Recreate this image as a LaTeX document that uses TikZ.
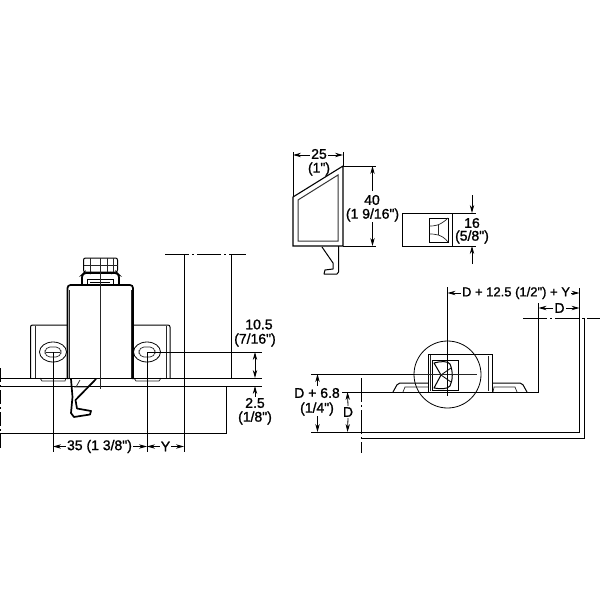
\documentclass[tikz,border=0pt]{standalone}
\usepackage{fontspec}
\usetikzlibrary{arrows.meta}
\newfontfamily\dimfont[FakeBold=1.2]{Liberation Sans}
\tikzset{
  dim/.style={line width=0.8bp},
  ln/.style={line width=1bp},
  thick line/.style={line width=1.7bp},
  thin line/.style={line width=0.7bp,black!85},
  cline/.style={line width=1bp,dash pattern=on 24bp off 3bp on 2bp off 3bp},
  arr/.style={line width=0.8bp,-{Stealth[length=8bp,width=4.4bp]}},
  lab/.style={font=\dimfont\fontsize{14bp}{15bp}\selectfont,inner sep=1bp,text=black},
}
\begin{document}
\begin{tikzpicture}[x=1bp,y=-1bp]
\useasboundingbox (0,0) rectangle (600,600);
\fill[white] (0,0) rectangle (600,600);

%% ---------- left view ----------
% knob
\draw[ln,rounded corners=2bp] (83.5,258) rectangle (117.5,272);
\draw[thin line] (83.5,265) -- (117.5,265) (90,258) -- (90,272) (107,258) -- (107,272) (113,258) -- (113,272);
\draw[ln] (92,272) -- (90,274) (110,272) -- (112,274);
% collar
\draw[thick line,rounded corners=2bp] (82,285) -- (82,275) -- (84,273) -- (117,273) -- (119,275) -- (119,285);
\draw[ln] (87,285) -- (87,279) -- (113,279) -- (113,285);
\draw[ln] (90,282) -- (110,282);
% body
\draw[thick line,rounded corners=3bp] (67.5,379) -- (67.5,285) -- (133,285) -- (133,379);
\draw[thin line] (69.5,290) -- (69.5,378) (131,290) -- (131,378);
% flanges
\draw[ln,rounded corners=2bp] (67,325) -- (30.5,325) -- (30.5,378);
\draw[thin line] (35,326) -- (35,378);
\draw[ln,rounded corners=2bp] (133,325) -- (170,325) -- (170,378);
\draw[thin line] (166,326) -- (166,378);
\draw[thin line] (40,378) -- (42,381) -- (65,381) -- (66,378);
\draw[thin line] (134,378) -- (136,381) -- (159,381) -- (161,378);
% slots
\draw[dim] (53,352) ellipse [x radius=13.5,y radius=10];
\draw[thin line,rounded corners=5bp] (45,347) rectangle (61,357);
\draw[thin line] (46,352) -- (60,352);
\draw[dim] (147,352) ellipse [x radius=13.5,y radius=10];
\draw[thin line,rounded corners=5bp] (139,347) rectangle (155,357);
% plate
\draw[dim] (0,378) -- (262,378);
\draw[dim] (0,386) -- (262,386);
\draw[dim] (0,433) -- (226,433) -- (226,386);
\draw[line width=1.3bp,dash pattern=on 14bp off 3bp on 2bp off 3bp] (0.7,368) -- (0.7,449);
% catch
\draw[thick line,line join=round] (71,379) -- (72.5,397) -- (71,413) -- (74,417) -- (90,414.5) -- (91,411) -- (77,408.5) -- (75.5,400) -- (96,379);
\draw[thin line] (80,380) -- (76,387) (74,387) -- (87,387);
% centre lines / extensions
\draw[thin line] (100,258) -- (100,389);
\draw[dim] (53,352) -- (53,452);
\draw[dim] (147,352) -- (147,452);
\draw[dim] (184,254) -- (184,452);
\draw[dim] (231.5,254) -- (231.5,378);
\draw[dim] (147,352) -- (262,352);
\draw[cline] (165,254) -- (246,254);
% dimensions
\node[lab] (t35) at (99.5,446.5) {35 (1 3/8")};
\node[lab] (tY) at (165.5,446.5) {Y};
\coordinate (a1) at (53,446.5); \coordinate (a2) at (147,446.5); \coordinate (a3) at (184,446.5);
\draw[arr] (t35.west) -- (a1);
\draw[arr] (t35.east) -- (a2);
\draw[arr] (tY.west) -- (a2);
\draw[arr] (tY.east) -- (a3);
\node[lab] (t105) at (259,324.5) {10.5};
\node[lab] (t716) at (255,340) {(7/16")};
\node[lab] (t25) at (255,403) {2.5};
\node[lab] (t18) at (255,418) {(1/8")};
\coordinate (b1) at (255,352); \coordinate (b2) at (255,378); \coordinate (b3) at (255,386);
\draw[arr] (255,366) -- (b1);
\draw[arr] (255,364) -- (b2);
\draw[arr] (t25.north) -- (b3);

%% ---------- top profile ----------
\draw[line width=1.1bp,line join=miter] (293,197) -- (343,166) -- (343,246) -- (293,246) -- cycle;
\draw[line width=1bp,black!80] (298,200) -- (338,175) -- (338,241) -- (298,241) -- cycle;
\draw[ln,line join=round] (322,247) -- (333,263) -- (333,269) -- (325,270) -- (324,274) -- (337,274) -- (338.5,272) -- (338.5,246);
\draw[dim] (293,197) -- (293,152) (343,166) -- (343,152);
\node[lab] (t25b) at (319,154) {25};
\node[lab] (t1) at (319,169) {(1")};
\coordinate (c1) at (293,155); \coordinate (c2) at (343,155);
\draw[arr] (t25b.west |- c1) -- (c1);
\draw[arr] (t25b.east |- c2) -- (c2);
\draw[dim] (343,166) -- (376,166) (343,246) -- (376,246);
\node[lab] (t40) at (372,200) {40};
\node[lab] (t916) at (372.5,215) {(1 9/16")};
\coordinate (d1) at (372.5,166); \coordinate (d2) at (372.5,246);
\draw[arr] (372.5,191) -- (d1);
\draw[arr] (372.5,222) -- (d2);

%% ---------- small front view ----------
\draw[line width=0.9bp] (402,213) rectangle (452,246);
\draw[dim] (429.5,218) rectangle (448,242);
\draw[thin line] (429.5,226) .. controls (434,226) and (440,226) .. (448,218);
\draw[thin line] (429.5,234) .. controls (434,234) and (442,234) .. (448,242);
\draw[thin line] (438,225) -- (438,235);
\draw[dim] (452,213) -- (476,213) (452,246) -- (476,246);
\node[lab] (t16) at (472,223) {16};
\node[lab] (t58) at (472,237) {(5/8")};
\coordinate (e1) at (472,213); \coordinate (e2) at (472,246);
\draw[arr] (472,195) -- (e1);
\draw[arr] (472,264) -- (e2);

%% ---------- bottom right view ----------
\draw[dim] (447.5,374.5) circle [radius=33.5];
% housing
\draw[ln] (428,392) -- (428,354.5) -- (492,354.5) -- (492,392);
\draw[thin line] (488,356) -- (488,391);
\draw[thin line] (430,355) -- (430,391);
\draw[dim] (432.5,360) rectangle (458,390);
% mechanism
\draw[ln,line join=round] (434,363) .. controls (441,361) and (448,361) .. (450,364) .. controls (453,371) and (453,380) .. (450,386) .. controls (447,389.5) and (440,389) .. (434,388) -- (441,375) -- cycle;
\draw[dim] (441,375) -- (451,368) (441,375) -- (451,382);
% flanges
\draw[ln,rounded corners=2bp] (393,392) -- (398,383) -- (428,383);
\draw[thin line] (403,392) -- (405,387) -- (428,387);
\draw[ln,rounded corners=2bp] (492,383) -- (522,383) -- (527,392);
\draw[thin line] (493,392) -- (494,387) -- (515,387) -- (517,392);
% lines
\draw[dim] (311,374) -- (415,374);
\draw[thin line] (415,374.5) -- (477,374.5);
\draw[dim] (342,392) -- (538.5,392) -- (538.5,303);
\draw[dim] (311,432) -- (579.5,432) -- (579.5,288);
\draw[dim] (361,438) -- (584.5,438) -- (584.5,318);
\draw[dim] (447.5,287) -- (447.5,396);
\draw[cline] (361,378) -- (361,453);
\draw[cline] (523,318) -- (600,318);
% dimensions
\node[lab,font=\dimfont\fontsize{13bp}{15bp}\selectfont] (ttop) at (516,293) {D + 12.5 (1/2") + Y};
\coordinate (f1) at (447.5,293); \coordinate (f2) at (579.5,293);
\draw[arr] (ttop.west) -- (f1);
\draw[arr] (ttop.east) -- (f2);
\node[lab] (tD) at (559.5,308) {D};
\coordinate (g1) at (538.5,308); \coordinate (g2) at (579.5,308);
\draw[arr] (tD.west) -- (g1);
\draw[arr] (tD.east) -- (g2);
\node[lab] (tD68) at (317,393) {D + 6.8};
\node[lab] (t14) at (317,409) {(1/4")};
\coordinate (h1) at (317.5,374); \coordinate (h2) at (317.5,432);
\draw[arr] (317.5,386) -- (h1);
\draw[arr] (317.5,416) -- (h2);
\node[lab] (tD2) at (348,412) {D};
\coordinate (i1) at (347.5,392); \coordinate (i2) at (347.5,432);
\draw[arr] (tD2.north) -- (i1);
\draw[arr] (tD2.south) -- (i2);
\end{tikzpicture}
\end{document}
